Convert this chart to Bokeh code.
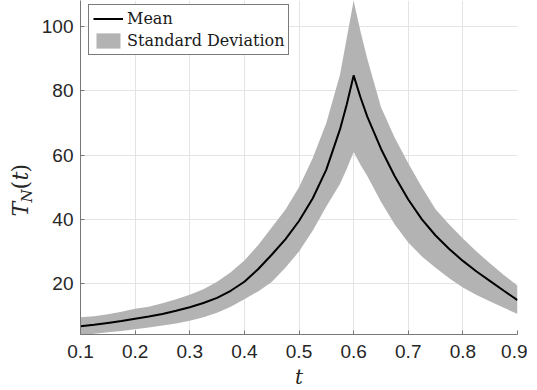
from math import pi
from bokeh.plotting import figure
from bokeh.layouts import row
from bokeh.core.properties import value
from bokeh.models import (ColumnDataSource, Range1d, FixedTicker, Legend,
                          LegendItem)
from bokeh.embed import file_html
from bokeh.resources import INLINE

# ---- data ----
t = [0.100, 0.125, 0.150, 0.175, 0.200, 0.225, 0.250, 0.275, 0.300, 0.325,
     0.350, 0.375, 0.400, 0.425, 0.450, 0.475, 0.500, 0.525, 0.550, 0.575,
     0.5875, 0.600, 0.6125, 0.625, 0.650, 0.675, 0.700, 0.725, 0.750, 0.775,
     0.800, 0.825, 0.850, 0.875, 0.900]
mean = [6.8, 7.2, 7.8, 8.4, 9.1, 9.8, 10.6, 11.6, 12.7, 14.0,
        15.6, 17.8, 20.6, 24.5, 29.0, 33.8, 39.5, 46.5, 55.5, 68.0,
        75.8, 84.8, 78.0, 72.0, 62.0, 53.5, 46.2, 40.0, 35.0, 30.8,
        27.1, 23.8, 20.8, 17.8, 14.9]
upper = [9.6, 9.9, 10.5, 11.3, 12.2, 12.8, 13.9, 15.2, 16.6, 18.3,
         20.6, 23.6, 27.2, 32.0, 37.5, 43.0, 50.0, 59.0, 70.0, 85.0,
         96.5, 108.0, 98.5, 90.0, 75.0, 65.5, 57.5, 50.0, 43.2, 38.4,
         34.1, 30.0, 26.3, 22.7, 19.4]
lower = [4.0, 4.4, 4.9, 5.3, 5.8, 6.4, 7.0, 7.6, 8.5, 9.6,
         11.0, 12.8, 15.2, 17.6, 20.5, 25.0, 30.0, 36.5, 44.0, 51.0,
         55.8, 61.0, 57.0, 53.5, 45.5, 38.5, 32.8, 28.5, 25.0, 21.7,
         18.8, 16.5, 14.5, 12.5, 10.6]
x_ticks = [0.1, 0.2, 0.3, 0.4, 0.5, 0.6, 0.7, 0.8, 0.9]
y_ticks = [20, 40, 60, 80, 100]

src = ColumnDataSource(dict(t=t, mean=mean, upper=upper, lower=lower))

FIG_H = 388
LAB_W = 36

p = figure(frame_width=437, frame_height=334, output_backend="svg",
           toolbar_location=None,
           x_range=Range1d(0.1, 0.9), y_range=Range1d(4.2, 108.1),
           min_border_left=80 - LAB_W, min_border_right=10, min_border_top=0,
           min_border_bottom=FIG_H - 334)
p.outline_line_color = None
p.background_fill_color = "white"
p.border_fill_color = "white"

band = p.varea(x="t", y1="lower", y2="upper", source=src,
               fill_color="#b3b3b3", fill_alpha=1.0)
line = p.line(x="t", y="mean", source=src, line_color="black", line_width=2)

for ax in (p.xaxis[0], p.yaxis[0]):
    ax.axis_line_color = "#777777"
    ax.major_tick_line_color = "#777777"
    ax.major_tick_in = 4
    ax.major_tick_out = 0
    ax.minor_tick_line_color = None
    ax.major_label_text_font = "Liberation Sans"
    ax.major_label_text_font_size = "19px"
    ax.major_label_text_color = "#262626"

p.xaxis.ticker = FixedTicker(ticks=x_ticks)
p.yaxis.ticker = FixedTicker(ticks=y_ticks)
p.xaxis.major_label_standoff = 10
p.yaxis.major_label_standoff = 7

p.xaxis.axis_label = "t"
p.xaxis.axis_label_text_font = "DejaVu Serif"
p.xaxis.axis_label_text_font_style = "italic"
p.xaxis.axis_label_text_font_size = "20px"
p.xaxis.axis_label_text_color = "#262626"
p.xaxis.axis_label_standoff = 4

p.xgrid.ticker = FixedTicker(ticks=x_ticks)
p.ygrid.ticker = FixedTicker(ticks=y_ticks)
p.grid.grid_line_color = "#e4e4e4"
p.grid.grid_line_width = 1

legend = Legend(items=[LegendItem(label="Mean", renderers=[line]),
                       LegendItem(label="Standard Deviation", renderers=[band])],
                location=(8, 334 - 6 - 49), orientation="vertical")
legend.label_text_font = "DejaVu Serif"
legend.label_text_font_size = "16px"
legend.label_text_color = "#1a1a1a"
legend.border_line_color = "#7a7a7a"
legend.border_line_width = 1
legend.border_line_alpha = 1.0
legend.background_fill_color = "white"
legend.background_fill_alpha = 1.0
legend.padding = 4
legend.spacing = 3
legend.glyph_width = 30
legend.glyph_height = 19
legend.label_height = 19
legend.label_standoff = 4
legend.margin = 0
p.add_layout(legend, "center")

# narrow figure holding the y-axis title T_N(t)
lab = figure(frame_width=LAB_W, frame_height=FIG_H, output_backend="svg",
             toolbar_location=None, x_range=Range1d(0, LAB_W),
             y_range=Range1d(0, FIG_H), min_border=0)
lab.axis.visible = False
lab.grid.visible = False
lab.outline_line_color = None
lab.border_fill_color = "white"
lab.background_fill_color = "white"

ylab_font = value("DejaVu Serif")
pieces = [("T", 20, FIG_H - 216, "22px", "italic"),
          ("N", 26, FIG_H - 202, "15px", "italic"),
          ("(", 20, FIG_H - 189, "22px", "normal"),
          ("t", 20, FIG_H - 180, "22px", "italic"),
          (")", 20, FIG_H - 172, "22px", "normal")]
for txt, xx, yy, fs, st in pieces:
    lab.text(x=[xx], y=[yy], text=[txt], angle=pi / 2,
             text_font=ylab_font, text_font_size=value(fs),
             text_font_style=st, text_color="#262626",
             text_align="left", text_baseline="middle")

layout = row(lab, p, spacing=0)
open("out.html", "w").write(file_html(layout, INLINE))
